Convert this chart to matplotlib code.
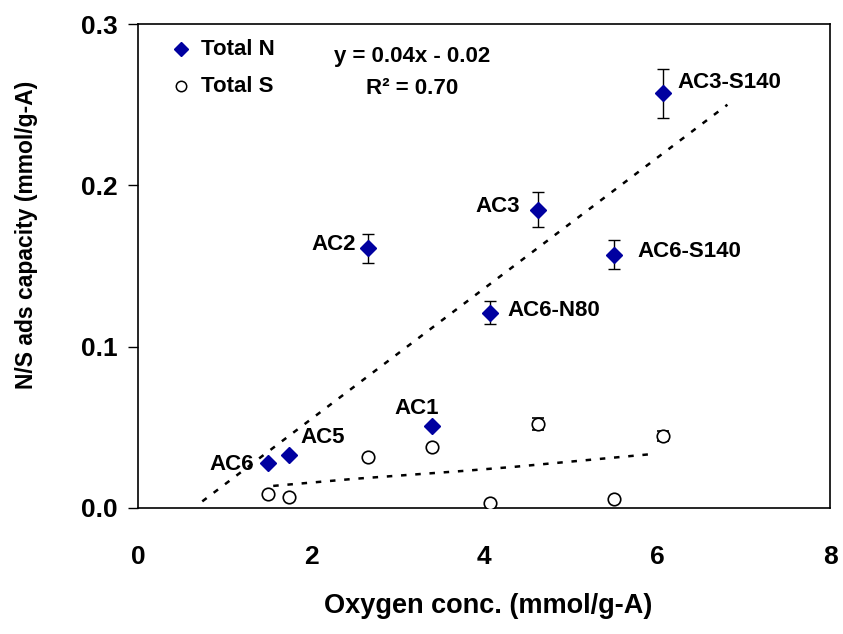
import numpy as np
import matplotlib.pyplot as plt

plt.rcParams['font.family'] = ['Liberation Sans', 'DejaVu Sans']
plt.rcParams['font.weight'] = 'bold'

# data
samples = ['AC6', 'AC5', 'AC2', 'AC1', 'AC6-N80', 'AC3', 'AC6-S140', 'AC3-S140']
oxygen = [1.50, 1.74, 2.65, 3.40, 4.07, 4.62, 5.50, 6.06]
total_n = [0.028, 0.033, 0.161, 0.051, 0.121, 0.185, 0.157, 0.257]
err_n = [0.0, 0.0, 0.009, 0.0, 0.007, 0.011, 0.009, 0.015]
total_s = [0.0085, 0.007, 0.0315, 0.038, 0.003, 0.052, 0.0055, 0.0445]
err_s = [0.0, 0.0, 0.0, 0.0, 0.0, 0.004, 0.0, 0.003]

# trend lines as drawn in the original
trend_n_x = [0.74, 6.81]
trend_n_y = [0.004, 0.250]
trend_s_x = [1.56, 2.5, 3.76, 4.34, 5.95]
trend_s_y = [0.0136, 0.018, 0.0229, 0.0254, 0.0334]

# label offsets (points) and alignment
label_pos = {
    'AC6': (-10.5, -1.5, 'right'),
    'AC5': (8.6, 12, 'left'),
    'AC2': (-8.5, 3, 'right'),
    'AC1': (-11.5, 12, 'center'),
    'AC6-N80': (12, 1.5, 'left'),
    'AC3': (-13, 2, 'right'),
    'AC6-S140': (16.5, 2, 'left'),
    'AC3-S140': (11, 8, 'left'),
}

fig = plt.figure(figsize=(8.43, 6.34), dpi=100)
ax = fig.add_axes([0.164, 0.199, 0.821, 0.763])

ax.plot(trend_n_x, trend_n_y, color='black', ls=(0, (2.2, 3.5)), lw=1.8)
ax.plot(trend_s_x, trend_s_y, color='black', ls=(0, (2.2, 3.5)), lw=1.8)

ax.errorbar(oxygen, total_s, yerr=err_s, fmt='o', mfc='white', mec='black',
            mew=1.2, ms=9, ecolor='black', elinewidth=1, capsize=4, zorder=3)
ax.errorbar(oxygen, total_n, yerr=err_n, fmt='D', color='#0000a0', mec='#0000a0',
            ms=8.5, ecolor='black', elinewidth=1, capsize=4, zorder=4)

for name, x, y in zip(samples, oxygen, total_n):
    dx, dy, ha = label_pos[name]
    ax.annotate(name, (x, y), xytext=(dx, dy), textcoords='offset points',
                ha=ha, va='center', fontsize=16, fontweight='bold')

# legend drawn by hand like the original
ax.plot([0.49], [0.2845], 'D', color='#0000a0', ms=7.5)
ax.plot([0.49], [0.2616], 'o', mfc='white', mec='black', ms=7.5, mew=1.1)
ax.text(0.72, 0.2845, 'Total N', fontsize=16, fontweight='bold', va='center')
ax.text(0.72, 0.2616, 'Total S', fontsize=16, fontweight='bold', va='center')
ax.text(3.16, 0.280, 'y = 0.04x - 0.02', fontsize=16, fontweight='bold',
        ha='center', va='center')
ax.text(3.16, 0.2600, 'R² = 0.70', fontsize=16, fontweight='bold',
        ha='center', va='center')

ax.set_xlim(0, 8)
ax.set_ylim(0, 0.3)
ax.set_xticks([0, 2, 4, 6, 8])
ax.set_yticks([0.0, 0.1, 0.2, 0.3])
ax.set_yticklabels(['0.0', '0.1', '0.2', '0.3'])
ax.tick_params(axis='y', direction='out', length=7, width=1, labelsize=19, pad=8)
ax.tick_params(axis='x', length=0, labelsize=19, pad=27)
for lab in ax.get_xticklabels() + ax.get_yticklabels():
    lab.set_fontweight('bold')
for s in ax.spines.values():
    s.set_linewidth(1.2)

ax.set_xlabel('Oxygen conc. (mmol/g-A)', fontsize=19.5, fontweight='bold')
ax.set_ylabel('N/S ads capacity (mmol/g-A)', fontsize=16.5, fontweight='bold')
ax.xaxis.set_label_coords(0.506, -0.176)
ax.yaxis.set_label_coords(-0.145, 0.564)

fig.savefig('out.png', dpi=100)
